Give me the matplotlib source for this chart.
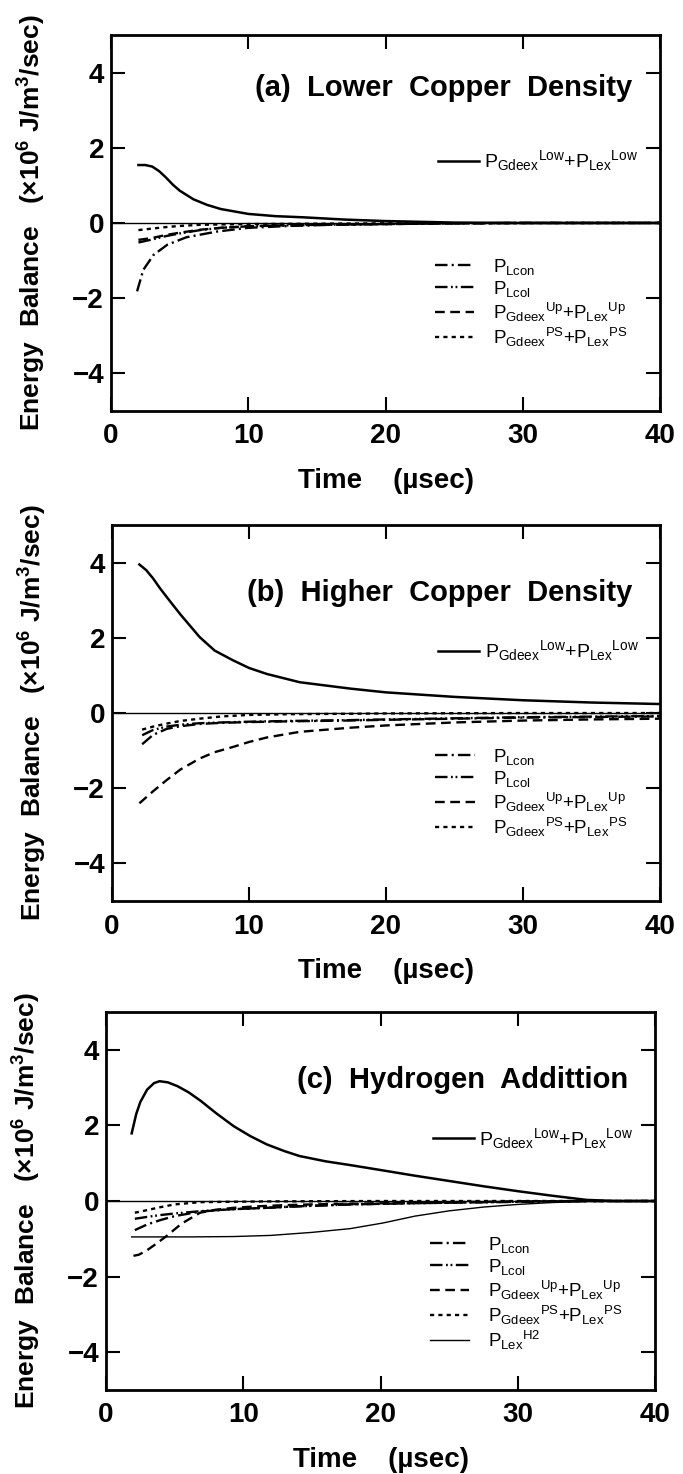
import matplotlib
matplotlib.use('Agg')
import matplotlib.pyplot as plt
from matplotlib.lines import Line2D

plt.rcParams['font.family'] = 'Liberation Sans'
plt.rcParams['mathtext.fontset'] = 'custom'
plt.rcParams['mathtext.rm'] = 'Liberation Sans'
plt.rcParams['mathtext.it'] = 'Liberation Sans:italic'
plt.rcParams['mathtext.bf'] = 'Liberation Sans:bold'
plt.rcParams['lines.scale_dashes'] = False

# ---- data (time in usec, energy in 1e6 J/m3/sec) ----
# (a) lower copper density
t_low_a = [2, 2.5, 3, 3.5, 4, 4.5, 5, 6, 7, 8, 10, 12, 14, 17, 20, 25, 30, 40]
low_a = [1.54, 1.54, 1.50, 1.38, 1.21, 1.02, 0.86, 0.63, 0.48, 0.37, 0.24, 0.18, 0.15, 0.09, 0.05, 0.01, 0.0, 0.0]
t_con_a = [1.9, 2.35, 3.1, 4.1, 5.5, 7.7, 10, 13, 16, 20, 25, 30, 40]
lcon_a = [-1.82, -1.25, -0.85, -0.58, -0.38, -0.23, -0.13, -0.08, -0.05, -0.03, -0.01, 0, 0]
t_col_a = [2, 3, 4, 5, 6.5, 8, 10, 12, 15, 20, 25, 30, 40]
lcol_a = [-0.52, -0.44, -0.35, -0.28, -0.19, -0.13, -0.09, -0.07, -0.05, -0.03, -0.01, 0, 0]
up_a = [-0.45, -0.40, -0.32, -0.26, -0.18, -0.13, -0.09, -0.07, -0.05, -0.03, -0.01, 0, 0]
t_ps_a = [2, 3, 4, 5, 6.5, 8, 10, 15, 20, 40]
ps_a = [-0.19, -0.15, -0.11, -0.08, -0.05, -0.04, -0.03, -0.02, -0.01, 0]

# (b) higher copper density
t_low_b = [2, 2.5, 3, 3.5, 4.2, 5, 6.4, 7.5, 8.85, 10, 11.3, 13.7, 17.4, 20, 25, 30, 35, 40]
low_b = [3.95, 3.80, 3.58, 3.32, 2.99, 2.62, 2.02, 1.66, 1.40, 1.20, 1.04, 0.82, 0.65, 0.55, 0.43, 0.34, 0.28, 0.24]
t_up_b = [2, 3, 4, 5, 6.4, 7.5, 8.85, 10, 11.3, 13.7, 17.4, 20, 25, 30, 35, 40]
up_b = [-2.40, -2.08, -1.78, -1.50, -1.21, -1.04, -0.90, -0.77, -0.65, -0.50, -0.39, -0.33, -0.25, -0.20, -0.17, -0.15]
t_con_b = [2.2, 3, 4, 5, 6.4, 8, 10, 13, 17, 20, 25, 30, 40]
lcon_b = [-0.83, -0.58, -0.42, -0.35, -0.29, -0.26, -0.24, -0.22, -0.20, -0.18, -0.15, -0.12, -0.09]
lcol_b = [-0.59, -0.45, -0.36, -0.31, -0.27, -0.25, -0.23, -0.21, -0.19, -0.17, -0.14, -0.11, -0.08]
t_ps_b = [2.2, 3, 4, 5, 6.4, 8, 10, 13, 17, 20, 30, 40]
ps_b = [-0.44, -0.36, -0.28, -0.21, -0.15, -0.09, -0.05, -0.03, -0.02, -0.01, 0, 0]

# (c) hydrogen addition
t_low_c = [1.87, 2.2, 2.5, 3.0, 3.5, 3.9, 4.5, 5.2, 6, 6.9, 8, 9.3, 10.5, 11.7, 13, 14.1, 16, 17.8, 20,
           22.5, 25, 27.5, 30, 32.5, 35, 37, 40]
low_c = [1.79, 2.3, 2.62, 2.95, 3.12, 3.17, 3.14, 3.04, 2.88, 2.65, 2.33, 1.98, 1.72, 1.50, 1.32, 1.19, 1.05,
         0.95, 0.82, 0.67, 0.53, 0.39, 0.26, 0.14, 0.03, 0, 0]
t_h2_c = [1.87, 4, 6, 9.3, 12, 15, 17.8, 20.2, 22.5, 25, 27.5, 30, 32.5, 35, 40]
h2_c = [-0.95, -0.95, -0.95, -0.94, -0.91, -0.83, -0.73, -0.58, -0.40, -0.26, -0.16, -0.09, -0.04, -0.01, 0]
t_up_c = [2, 2.4, 3, 3.7, 4.4, 5.5, 6.85, 8, 9.3, 11, 13, 15, 20, 25, 30, 35, 40]
up_c = [-1.45, -1.42, -1.30, -1.12, -0.93, -0.60, -0.31, -0.23, -0.18, -0.14, -0.11, -0.09, -0.06, -0.03, -0.01, 0, 0]
t_ps_c = [2.1, 3, 4, 5, 6.85, 9, 12, 20, 40]
ps_c = [-0.31, -0.24, -0.16, -0.09, -0.03, -0.02, -0.01, 0, 0]
t_con_c = [2.1, 3, 4, 5, 6.85, 9, 11.7, 14, 17.8, 22, 26, 30, 35, 40]
lcon_c = [-0.77, -0.62, -0.50, -0.40, -0.28, -0.22, -0.18, -0.14, -0.09, -0.06, -0.04, -0.02, 0, 0]
lcol_c = [-0.47, -0.42, -0.37, -0.33, -0.27, -0.22, -0.18, -0.14, -0.09, -0.06, -0.04, -0.02, 0, 0]

titles = ['(a)  Lower  Copper  Density', '(b)  Higher  Copper  Density', '(c)  Hydrogen  Addittion']
xticks = [0, 10, 20, 30, 40]
yticks = [-4, -2, 0, 2, 4]

lab_low = r'$\mathrm{P_{Gdeex}{}^{Low}{+}P_{Lex}{}^{Low}}$'
lab_con = r'$\mathrm{P_{Lcon}}$'
lab_col = r'$\mathrm{P_{Lcol}}$'
lab_up = r'$\mathrm{P_{Gdeex}{}^{Up}{+}P_{Lex}{}^{Up}}$'
lab_ps = r'$\mathrm{P_{Gdeex}{}^{PS}{+}P_{Lex}{}^{PS}}$'
lab_h2 = r'$\mathrm{P_{Lex}{}^{H2}}$'

st_low = dict(color='k', lw=1.8, ls='-')
st_con = dict(color='k', lw=1.7, ls=(0, (9, 3, 1.5, 3)))
st_col = dict(color='k', lw=1.7, ls=(0, (9, 2.5, 1.3, 2, 1.3, 2.5)))
st_up = dict(color='k', lw=1.7, ls=(0, (7, 4)))
st_ps = dict(color='k', lw=1.7, ls=(0, (3, 3)))
st_h2 = dict(color='k', lw=1.0, ls='-')

fig = plt.figure(figsize=(6.83, 14.74), dpi=100)
ax_a = fig.add_axes([0.1625, 0.7212, 0.804, 0.2551])
ax_b = fig.add_axes([0.1640, 0.3887, 0.802, 0.2551])
ax_c = fig.add_axes([0.1552, 0.0570, 0.804, 0.2564])
axes = [ax_a, ax_b, ax_c]

ax_a.plot(t_low_a, low_a, **st_low)
ax_a.plot(t_con_a, lcon_a, **st_con)
ax_a.plot(t_col_a, lcol_a, **st_col)
ax_a.plot(t_col_a, up_a, **st_up)
ax_a.plot(t_ps_a, ps_a, **st_ps)

ax_b.plot(t_low_b, low_b, **st_low)
ax_b.plot(t_con_b, lcon_b, **st_con)
ax_b.plot(t_con_b, lcol_b, **st_col)
ax_b.plot(t_up_b, up_b, **st_up)
ax_b.plot(t_ps_b, ps_b, **st_ps)

ax_c.plot(t_low_c, low_c, **st_low)
ax_c.plot(t_con_c, lcon_c, **st_con)
ax_c.plot(t_con_c, lcol_c, **st_col)
ax_c.plot(t_up_c, up_c, **st_up)
ax_c.plot(t_ps_c, ps_c, **st_ps)
ax_c.plot(t_h2_c, h2_c, **st_h2)

for i, ax in enumerate(axes):
    ax.axhline(0, color='k', lw=1.0)
    ax.set_xlim(0, 40)
    ax.set_ylim(-5, 5)
    ax.set_xticks(xticks)
    ax.set_yticks(yticks)
    ax.set_yticklabels(['\u22124', '\u22122', '0', '2', '4'])
    ax.tick_params(direction='in', top=True, right=True, length=10, width=1.5,
                   labelsize=20)
    ax.tick_params(axis='x', pad=9)
    ax.tick_params(axis='y', pad=5)
    for lab in ax.get_xticklabels() + ax.get_yticklabels():
        lab.set_fontweight('bold')
    for sp in ax.spines.values():
        sp.set_linewidth(2)
    ax.set_xlabel('Time    (\u00b5sec)', fontsize=20, fontweight='bold', labelpad=13)
    ax.set_ylabel(r'$\mathbf{Energy\ \ Balance\ \ \ (\times10^{6}\ J/m^{3}/sec)}$', fontsize=19)
    ax.yaxis.set_label_coords(-0.115, 0.5)
    ax.text(0.95, 0.86 if i == 0 else 0.82, titles[i], transform=ax.transAxes, ha='right', va='center',
            fontsize=21, fontweight='bold')

    top = ax.legend([Line2D([], [], **st_low)], [lab_low], loc='center left',
                    bbox_to_anchor=(0.595, 0.665), frameon=False, fontsize=14,
                    handlelength=2.1, handletextpad=0.3, borderpad=0, borderaxespad=0)
    ax.add_artist(top)
    hs = [Line2D([], [], **st_con), Line2D([], [], **st_col), Line2D([], [], **st_up), Line2D([], [], **st_ps)]
    ls = [lab_con, lab_col, lab_up, lab_ps]
    if i == 2:
        hs.append(Line2D([], [], **st_h2))
        ls.append(lab_h2)
    ax.legend(hs, ls, loc='upper left', bbox_to_anchor=(0.59, 0.41), frameon=False, fontsize=13.5,
              handlelength=2.1, handletextpad=1.0, labelspacing=0.1, borderpad=0, borderaxespad=0)

fig.savefig('out.png', dpi=100)
